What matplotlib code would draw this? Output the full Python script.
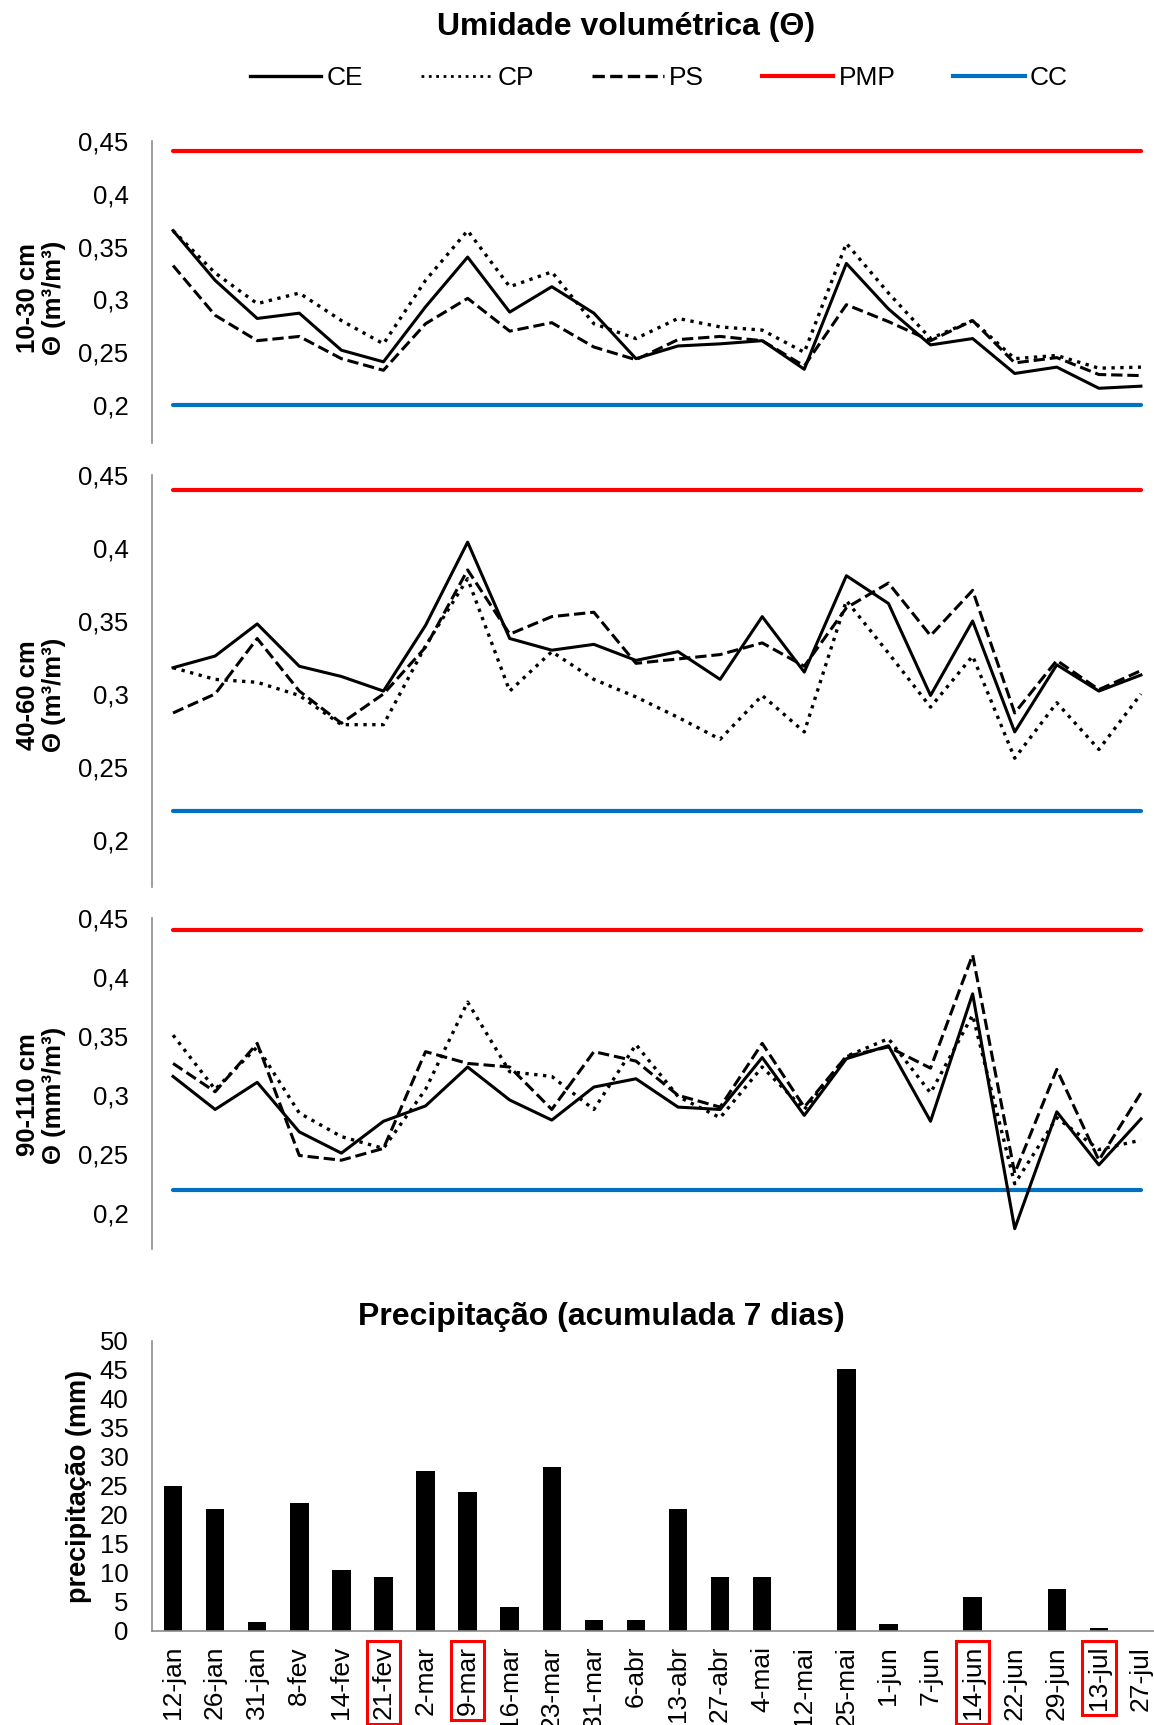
import matplotlib
matplotlib.use('Agg')
import matplotlib.pyplot as plt
from matplotlib.lines import Line2D
from matplotlib.ticker import FuncFormatter

plt.rcParams['font.family'] = ['Liberation Sans', 'DejaVu Sans']

# datas de amostragem
datas = ['12-jan', '26-jan', '31-jan', '8-fev', '14-fev', '21-fev', '2-mar', '9-mar',
         '16-mar', '23-mar', '31-mar', '6-abr', '13-abr', '27-abr', '4-mai', '12-mai',
         '25-mai', '1-jun', '7-jun', '14-jun', '22-jun', '29-jun', '13-jul', '27-jul']
destaque = ['21-fev', '9-mar', '14-jun', '13-jul']

# umidade 10-30 cm
ce_1 = [0.365, 0.318, 0.282, 0.287, 0.252, 0.241, 0.293, 0.340, 0.288, 0.312, 0.287, 0.244,
        0.256, 0.258, 0.261, 0.234, 0.334, 0.291, 0.257, 0.263, 0.230, 0.236, 0.216, 0.218]
cp_1 = [0.365, 0.325, 0.296, 0.306, 0.280, 0.258, 0.318, 0.365, 0.312, 0.326, 0.277, 0.263,
        0.282, 0.274, 0.271, 0.250, 0.353, 0.306, 0.263, 0.280, 0.244, 0.247, 0.235, 0.236]
ps_1 = [0.332, 0.285, 0.261, 0.265, 0.244, 0.233, 0.277, 0.301, 0.270, 0.278, 0.255, 0.243,
        0.262, 0.265, 0.261, 0.237, 0.295, 0.279, 0.261, 0.280, 0.240, 0.245, 0.229, 0.228]

# umidade 40-60 cm
ce_2 = [0.318, 0.326, 0.348, 0.319, 0.312, 0.302, 0.347, 0.404, 0.338, 0.330, 0.334, 0.323,
        0.329, 0.310, 0.353, 0.315, 0.381, 0.362, 0.299, 0.350, 0.274, 0.320, 0.302, 0.313]
cp_2 = [0.318, 0.310, 0.308, 0.299, 0.279, 0.279, 0.333, 0.379, 0.302, 0.329, 0.310, 0.298,
        0.284, 0.269, 0.299, 0.274, 0.364, 0.328, 0.291, 0.326, 0.256, 0.294, 0.262, 0.300]
ps_2 = [0.287, 0.300, 0.338, 0.302, 0.280, 0.300, 0.332, 0.385, 0.341, 0.353, 0.356, 0.321,
        0.324, 0.327, 0.335, 0.319, 0.359, 0.376, 0.340, 0.371, 0.287, 0.323, 0.303, 0.316]

# umidade 90-110 cm
ce_3 = [0.316, 0.288, 0.311, 0.269, 0.251, 0.278, 0.291, 0.324, 0.296, 0.279, 0.307, 0.314,
        0.290, 0.288, 0.332, 0.283, 0.331, 0.342, 0.278, 0.386, 0.187, 0.286, 0.241, 0.280]
cp_3 = [0.351, 0.305, 0.341, 0.285, 0.265, 0.255, 0.305, 0.379, 0.320, 0.316, 0.288, 0.343,
        0.299, 0.281, 0.324, 0.288, 0.333, 0.348, 0.302, 0.368, 0.225, 0.281, 0.254, 0.262]
ps_3 = [0.327, 0.303, 0.344, 0.249, 0.245, 0.255, 0.337, 0.327, 0.324, 0.288, 0.337, 0.329,
        0.300, 0.290, 0.344, 0.290, 0.333, 0.341, 0.323, 0.419, 0.234, 0.322, 0.245, 0.302]

pmp = [0.44, 0.44, 0.44]
cc = [0.20, 0.22, 0.22]
rotulos = ['10-30 cm\nΘ (m³/m³)', '40-60 cm\nΘ (m³/m³)', '90-110 cm\nΘ (mm³/m³)']
y_min = [0.164, 0.168, 0.1695]

# precipitacao acumulada 7 dias (mm)
precip = [25, 21, 1.5, 22, 10.5, 9.2, 27.5, 24, 4.1, 28.2, 1.8, 1.8,
          21, 9.2, 9.2, 0, 45.2, 1.2, 0, 5.8, 0, 7.2, 0.5, 0]

W, H = 1154, 1725
fig = plt.figure(figsize=(W / 100, H / 100), dpi=100)

x = list(range(len(datas)))
cinza = '#8c8c8c'
fs = 18.5

def fmt(v, pos):
    return f'{v:g}'.replace('.', ',')

# posicao dos paineis em pixels (topo, base)
paineis = [(140.7, 443.3), (475, 886.7), (918.3, 1249.3)]
left = 152 / W
width = 1010 / W

for k, (topo, base) in enumerate(paineis):
    ax = fig.add_axes([left, 1 - base / H, width, (base - topo) / H])
    ce, cp, ps = [(ce_1, cp_1, ps_1), (ce_2, cp_2, ps_2), (ce_3, cp_3, ps_3)][k]
    ax.plot(x, [pmp[k]] * len(x), color='#ff0000', lw=3, solid_capstyle='round')
    ax.plot(x, [cc[k]] * len(x), color='#0070c0', lw=3, solid_capstyle='round')
    ax.plot(x, cp, color='black', lw=2.4, linestyle=':')
    ax.plot(x, ps, color='black', lw=2.2, linestyle='--')
    ax.plot(x, ce, color='black', lw=2.2)
    ax.set_xlim(-0.5, len(x) - 0.5)
    ax.set_ylim(y_min[k], 0.45)
    ax.set_yticks([0.2, 0.25, 0.3, 0.35, 0.4, 0.45])
    ax.yaxis.set_major_formatter(FuncFormatter(fmt))
    ax.set_xticks([])
    ax.tick_params(axis='y', length=0, pad=17, labelsize=fs)
    for s in ['top', 'right', 'bottom']:
        ax.spines[s].set_visible(False)
    ax.spines['left'].set_color(cinza)
    ax.spines['left'].set_linewidth(1.2)
    ax.patch.set_alpha(0)

# rotulos do eixo y
centros = [298, 695, 1095]
for k, yc in enumerate(centros):
    fig.text(41 / W, 1 - yc / H, rotulos[k], rotation=90, ha='center', va='center',
             fontsize=18.5, fontweight='bold', linespacing=1.12)

# grafico de barras
topo, base = 1341, 1630.7
ax4 = fig.add_axes([left, 1 - base / H, width, (base - topo) / H])
ax4.bar(x, precip, width=0.44, color='black')
ax4.set_xlim(-0.5, len(x) - 0.5)
ax4.set_ylim(0, 50)
ax4.set_yticks(range(0, 51, 5))
ax4.set_xticks(x)
ax4.set_xticklabels(datas, rotation=90)
ax4.tick_params(axis='y', length=0, labelsize=fs, pad=17)
ax4.tick_params(axis='x', length=0, labelsize=19, pad=11)
for s in ['top', 'right']:
    ax4.spines[s].set_visible(False)
for s in ['left', 'bottom']:
    ax4.spines[s].set_color(cinza)
    ax4.spines[s].set_linewidth(1.2)
for lbl in ax4.get_xticklabels():
    if lbl.get_text() in destaque:
        lbl.set_bbox(dict(boxstyle='square,pad=0.18', fc='none', ec='#ff0000', lw=2.2))

fig.text(79 / W, 1 - 1486 / H, 'precipitação (mm)', rotation=90, ha='center', va='center',
         fontsize=19.5, fontweight='bold')

# titulos
fig.text(626 / W, 1 - 27 / H, 'Umidade volumétrica (Θ)', ha='center', va='center',
         fontsize=23, fontweight='bold')
fig.text(601 / W, 1 - 1317 / H, 'Precipitação (acumulada 7 dias)', ha='center', va='center',
         fontsize=23, fontweight='bold')

# legenda
handles = [
    Line2D([], [], color='black', lw=2.4),
    Line2D([], [], color='black', lw=2.0, linestyle=':'),
    Line2D([], [], color='black', lw=2.4, linestyle='--'),
    Line2D([], [], color='#ff0000', lw=3),
    Line2D([], [], color='#0070c0', lw=3),
]
fig.legend(handles, ['CE', 'CP', 'PS', 'PMP', 'CC'], ncol=5, loc='center',
           bbox_to_anchor=(659 / W, 1 - 78 / H), frameon=False, fontsize=19,
           handlelength=2.7, handletextpad=0.2, columnspacing=2.2)

fig.savefig('out.png', dpi=100)
plt.close()
